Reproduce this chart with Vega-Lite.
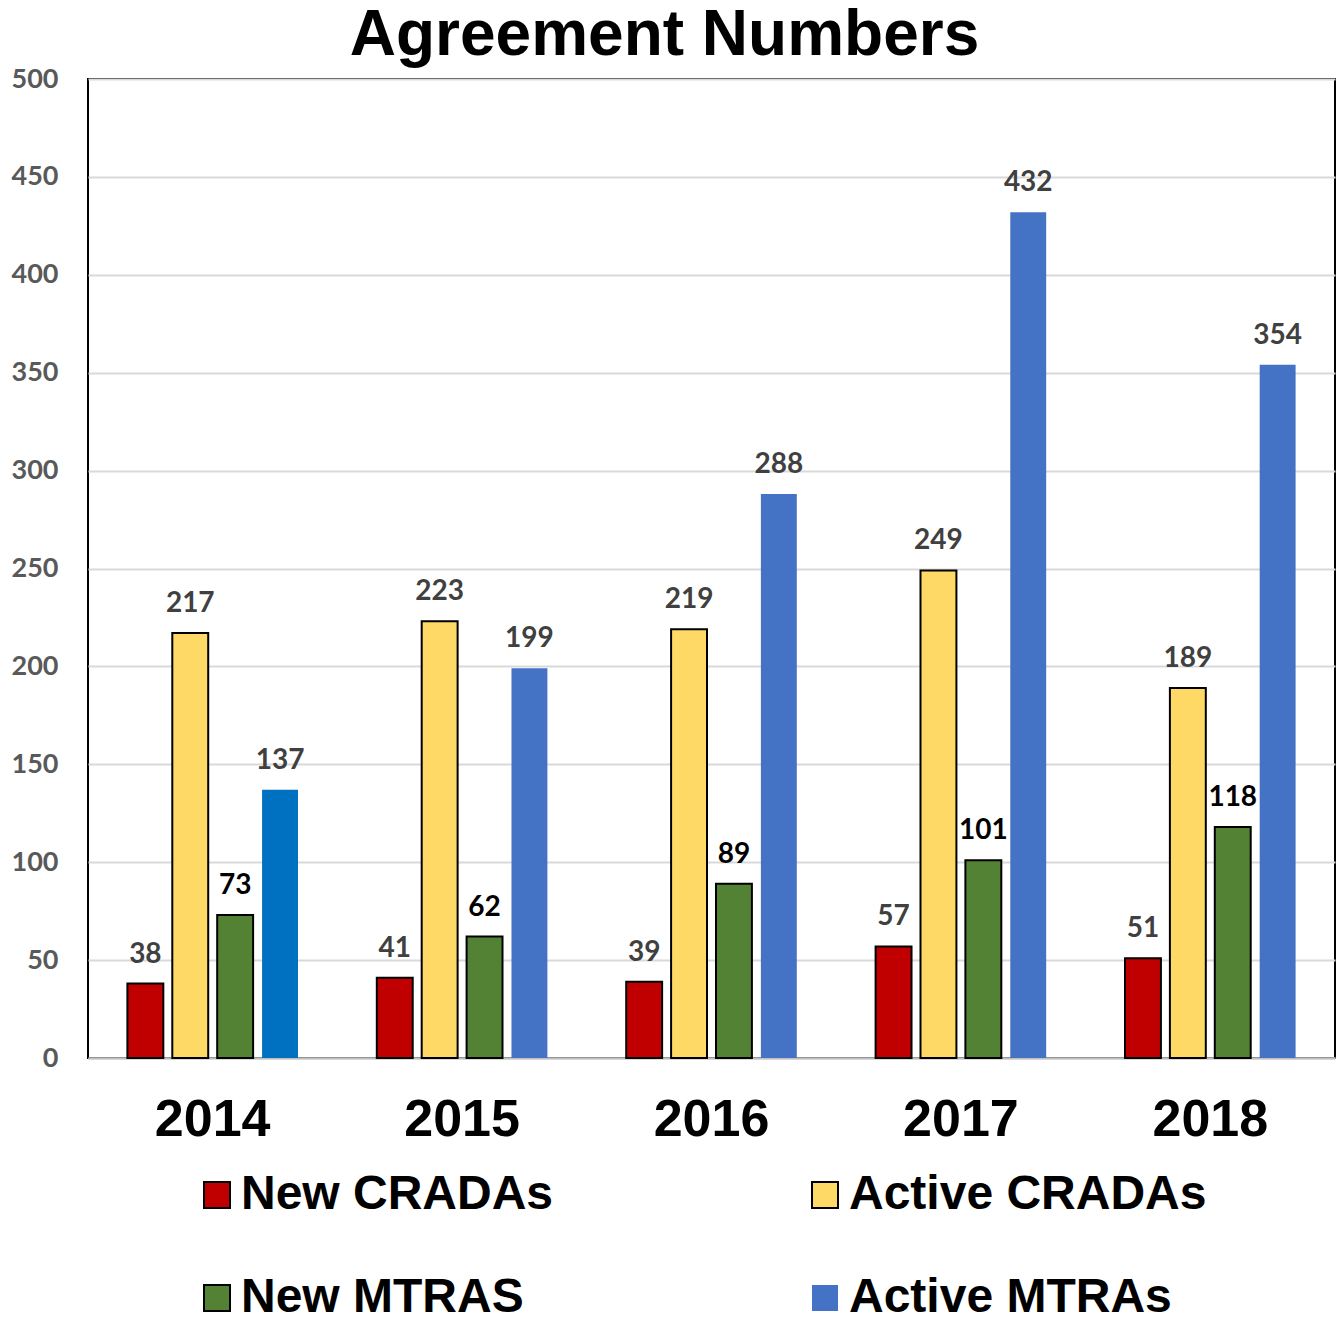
{
  "$schema": "https://vega.github.io/schema/vega-lite/v6.json",
  "width": 1247,
  "height": 979,
  "autosize": {"type": "none"},
  "padding": {"left": 88, "top": 79, "right": 3, "bottom": 259},
  "background": "white",
  "title": {
    "text": "Agreement Numbers",
    "font": "Liberation Sans",
    "fontSize": 64,
    "fontWeight": "bold",
    "color": "black",
    "anchor": "middle",
    "dx": -47,
    "offset": -3
  },
  "config": {
    "view": {"stroke": "black", "strokeWidth": 2}
  },
  "data": {
    "values": [
      {"year": "2014", "series": "New CRADAs", "value": 38},
      {"year": "2014", "series": "Active CRADAs", "value": 217},
      {"year": "2014", "series": "New MTRAS", "value": 73},
      {"year": "2014", "series": "Active MTRAs", "value": 137},
      {"year": "2015", "series": "New CRADAs", "value": 41},
      {"year": "2015", "series": "Active CRADAs", "value": 223},
      {"year": "2015", "series": "New MTRAS", "value": 62},
      {"year": "2015", "series": "Active MTRAs", "value": 199},
      {"year": "2016", "series": "New CRADAs", "value": 39},
      {"year": "2016", "series": "Active CRADAs", "value": 219},
      {"year": "2016", "series": "New MTRAS", "value": 89},
      {"year": "2016", "series": "Active MTRAs", "value": 288},
      {"year": "2017", "series": "New CRADAs", "value": 57},
      {"year": "2017", "series": "Active CRADAs", "value": 249},
      {"year": "2017", "series": "New MTRAS", "value": 101},
      {"year": "2017", "series": "Active MTRAs", "value": 432},
      {"year": "2018", "series": "New CRADAs", "value": 51},
      {"year": "2018", "series": "Active CRADAs", "value": 189},
      {"year": "2018", "series": "New MTRAS", "value": 118},
      {"year": "2018", "series": "Active MTRAs", "value": 354}
    ]
  },
  "encoding": {
    "x": {
      "field": "year",
      "type": "nominal",
      "scale": {"paddingInner": 0.28, "paddingOuter": 0.14},
      "axis": {
        "title": null,
        "labelAngle": 0,
        "labelFont": "Liberation Sans",
        "labelFontSize": 52,
        "labelFontWeight": "bold",
        "labelColor": "black",
        "labelPadding": 36,
        "ticks": false,
        "domainColor": "#BFBFBF",
        "domainWidth": 2
      }
    },
    "xOffset": {
      "field": "series",
      "type": "nominal",
      "sort": ["New CRADAs", "Active CRADAs", "New MTRAS", "Active MTRAs"],
      "scale": {"paddingInner": 0.2, "paddingOuter": 0.1}
    },
    "y": {
      "field": "value",
      "type": "quantitative",
      "scale": {"domain": [0, 500]},
      "axis": {
        "title": null,
        "values": [0, 50, 100, 150, 200, 250, 300, 350, 400, 450, 500],
        "labelFont": "Lato",
        "labelFontSize": 27,
        "labelFontWeight": "bold",
        "labelColor": "#595959",
        "labelPadding": 30,
        "ticks": false,
        "domain": false,
        "gridColor": "#D9D9D9",
        "gridWidth": 2
      }
    }
  },
  "layer": [
    {
      "mark": {"type": "bar", "strokeWidth": 2},
      "encoding": {
        "fill": {
          "condition": {"test": "datum.year == '2014' && datum.series == 'Active MTRAs'", "value": "#0070C0"},
          "field": "series",
          "type": "nominal",
          "scale": {
            "domain": ["New CRADAs", "New MTRAS", "Active CRADAs", "Active MTRAs"],
            "range": ["#C00000", "#548235", "#FFD966", "#4472C4"]
          },
          "legend": {
            "title": null,
            "orient": "none",
            "legendX": 105,
            "legendY": 1092,
            "columns": 2,
            "columnPadding": 247,
            "rowPadding": 55,
            "symbolType": "square",
            "symbolSize": 676,
            "symbolStrokeColor": "black",
            "symbolStrokeWidth": 2,
            "symbolOpacity": 1,
            "labelFont": "Liberation Sans",
            "labelFontSize": 48,
            "labelFontWeight": "bold",
            "labelColor": "black",
            "labelOffset": 0,
            "labelLimit": 600,
            "encode": {
              "symbols": {
                "update": {
                  "stroke": {"signal": "datum.value == 'Active MTRAs' ? 'transparent' : 'black'"}
                }
              }
            }
          }
        },
        "stroke": {
          "condition": {"test": "datum.series == 'Active MTRAs'", "value": "transparent"},
          "value": "black"
        }
      }
    },
    {
      "mark": {"type": "text", "font": "Lato", "fontSize": 28, "fontWeight": "bold", "baseline": "alphabetic", "dy": -21},
      "encoding": {
        "text": {"field": "value", "type": "quantitative"},
        "color": {
          "condition": {"test": "datum.series == 'New MTRAS'", "value": "black"},
          "value": "#404040"
        }
      }
    }
  ]
}
